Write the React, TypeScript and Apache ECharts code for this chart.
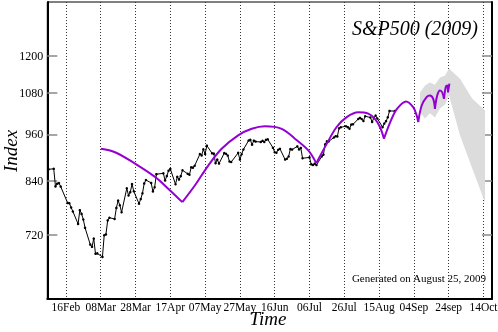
import React, { useEffect, useRef } from "react";
import * as echarts from "echarts";

// S&P500 daily closes (MM-DD, 2009)
const spxDates = [
  "02-06","02-09","02-10","02-11","02-12","02-13","02-17","02-18","02-19","02-20",
  "02-23","02-24","02-25","02-26","02-27","03-02","03-03","03-04","03-05","03-06",
  "03-09","03-10","03-11","03-12","03-13","03-16","03-17","03-18","03-19","03-20",
  "03-23","03-24","03-25","03-26","03-27","03-30","03-31","04-01","04-02","04-03",
  "04-06","04-07","04-08","04-09","04-13","04-14","04-15","04-16","04-17","04-20",
  "04-21","04-22","04-23","04-24","04-27","04-28","04-29","04-30","05-01","05-04",
  "05-05","05-06","05-07","05-08","05-11","05-12","05-13","05-14","05-15","05-18",
  "05-19","05-20","05-21","05-22","05-26","05-27","05-28","05-29","06-01","06-02",
  "06-03","06-04","06-05","06-08","06-09","06-10","06-11","06-12","06-15","06-16",
  "06-17","06-18","06-19","06-22","06-23","06-24","06-25","06-26","06-29","06-30",
  "07-01","07-02","07-06","07-07","07-08","07-09","07-10","07-13","07-14","07-15",
  "07-16","07-17","07-20","07-21","07-22","07-23","07-24","07-27","07-28","07-29",
  "07-30","07-31","08-03","08-04","08-05","08-06","08-07","08-10","08-11","08-12",
  "08-13","08-14","08-17","08-18","08-19","08-20","08-21","08-24"
];
const spxValues = [
  868.6, 869.9, 827.2, 833.7, 835.2, 826.8, 789.2, 788.4, 778.9, 770.1,
  743.3, 773.1, 764.9, 752.8, 735.1, 700.8, 696.3, 712.9, 682.6, 683.4,
  676.5, 719.6, 721.4, 750.7, 756.6, 753.9, 778.1, 794.4, 784.0, 768.5,
  822.9, 806.1, 813.9, 832.9, 815.9, 787.5, 797.9, 811.1, 834.4, 842.5,
  835.5, 815.6, 825.2, 856.6, 858.7, 841.5, 852.1, 865.3, 869.6, 832.4,
  850.1, 843.6, 851.9, 866.2, 857.5, 855.2, 873.6, 872.8, 877.5, 907.2,
  903.8, 919.5, 907.4, 929.2, 909.2, 908.4, 883.9, 893.1, 882.9, 909.7,
  908.1, 903.5, 888.3, 887.0, 910.3, 893.1, 906.8, 919.1, 942.9, 944.7,
  931.8, 942.5, 940.1, 939.1, 942.4, 939.2, 944.9, 946.2, 923.7, 912.0,
  910.7, 918.4, 921.2, 893.0, 895.1, 900.9, 920.3, 918.9, 927.2, 919.3,
  923.3, 896.4, 898.7, 881.0, 879.6, 882.7, 879.1, 901.1, 905.8, 932.7,
  940.7, 940.4, 951.1, 954.6, 954.1, 976.3, 979.3, 982.2, 979.6, 975.2,
  986.8, 987.5, 1002.6, 1005.7, 1002.7, 997.1, 1010.5, 1007.1, 994.4, 1005.8,
  1012.7, 1004.1, 979.7, 989.7, 996.5, 1007.4, 1026.1, 1025.6
];

// Projected cycle arcs: [day of year, index]
const arc1 = [[67.1, 921], [75.2, 912], [86.7, 883], [98.2, 850], [105.8, 822], [113.9, 791]];
const arc2 = [[113.9, 791], [121.2, 830], [128.8, 878], [136.5, 921], [146.0, 957], [153.8, 975], [161.4, 982], [171.0, 975], [178.6, 948], [186.3, 917], [190.9, 884]];
const arc3 = [[190.9, 884], [196.9, 934], [202.6, 980], [208.4, 1008], [215.0, 1022], [220.8, 1018], [224.6, 1003], [227.5, 980], [229.8, 948]];
const arc4 = [[229.8, 948], [234.2, 1003], [237.6, 1034], [242.5, 1054], [246.6, 1037], [248.6, 1013], [249.5, 994]];
const arc5 = [[249.5, 994], [251.5, 1042], [254.3, 1067], [256.2, 1072], [258.1, 1062], [259.1, 1032]];
const arc6 = [[259.1, 1032], [260.4, 1072], [262.0, 1088], [263.3, 1082], [264.3, 1062]];
const arc7 = [[264.3, 1062], [265.3, 1098], [266.2, 1103], [266.6, 1082]];
const arc8 = [[266.6, 1082], [267.4, 1109]];

// Uncertainty band
const bandDays = [250.5, 253.4, 256.2, 259.1, 262.0, 264.9, 267.2, 273.5, 280.5, 287.9];
const bandLow = [1022, 1004, 1019, 1007, 1033, 1045, 1072, 957, 871, 790];
const bandHigh = [1081, 1103, 1113, 1106, 1129, 1135, 1158, 1125, 1063, 1027];

const tickDates = ["02-16","03-08","03-28","04-17","05-07","05-27","06-16","07-06","07-26","08-15","09-04","09-24","10-14"];
const tickLabels = ["16Feb","08Mar","28Mar","17Apr","07May","27May","16Jun","06Jul","26Jul","15Aug","04Sep","24sep","14Oct"];
const yTicks = [720, 840, 960, 1080, 1200];

function dayOfYear(md: string): number {
  const [m, d] = md.split("-").map(Number);
  return (Date.UTC(2009, m - 1, d) - Date.UTC(2009, 0, 1)) / 86400000 + 1;
}

const SERIF = "'Liberation Serif', 'DejaVu Serif', serif";
const PURPLE = "#9400D3";

export default function App() {
  const ref = useRef<HTMLDivElement>(null);
  useEffect(() => {
    if (!ref.current) return;
    const chart = echarts.init(ref.current, undefined, { renderer: "svg" });
    const tickDays = tickDates.map(dayOfYear);
    const lnTicks = yTicks.map((v) => Math.log(v));
    const arcs = [arc1, arc2, arc3, arc4, arc5, arc6, arc7, arc8];

    const arcSeries = arcs.map((arc) => ({
      type: "line",
      data: arc.map(([d, v]) => [d, Math.log(v)]),
      smooth: 0.35,
      symbol: "none",
      lineStyle: { color: PURPLE, width: 2 },
      z: 5,
      silent: true,
    }));

    const yAxisCommon = {
      type: "value",
      min: Math.log(600),
      max: Math.log(1400),
      splitLine: { show: false },
      axisLine: { show: true, lineStyle: { color: "#000", width: 2 } },
      axisTick: {
        show: true,
        inside: true,
        length: 10,
        customValues: lnTicks,
        lineStyle: { color: "#888", width: 1.5 },
      },
    };

    const bandData = bandDays.map((d, i) => [d, Math.log(bandLow[i]), Math.log(bandHigh[i])]);

    chart.setOption({
      animation: false,
      grid: {
        left: 47.3,
        right: 6,
        top: 2,
        bottom: 33,
        show: true,
        borderColor: "#000",
        borderWidth: 1,
        outerBoundsMode: "none",
      },
      xAxis: [
        {
          type: "value",
          min: 36.3,
          max: 291.9,
          axisLine: { show: true, onZero: false, lineStyle: { color: "#000", width: 2 } },
          axisTick: { show: false, customValues: tickDays },
          axisLabel: {
            customValues: tickDays,
            formatter: (v: number) => {
              const i = tickDays.findIndex((d) => Math.abs(d - v) < 0.01);
              return i >= 0 ? tickLabels[i] : "";
            },
            fontFamily: SERIF,
            fontSize: 11.5,
            color: "#000",
            margin: 2,
          },
          splitLine: {
            show: true,
            lineStyle: { color: "#333", width: 1, type: [1, 2] },
          },
        },
      ],
      yAxis: [
        {
          ...yAxisCommon,
          position: "left",
          axisLabel: {
            customValues: lnTicks,
            formatter: (v: number) => String(Math.round(Math.exp(v))),
            fontFamily: SERIF,
            fontSize: 12,
            color: "#000",
            margin: 4,
          },
        },
        {
          ...yAxisCommon,
          position: "right",
          axisLabel: { show: false },
        },
      ],
      series: [
        {
          type: "custom",
          data: bandData,
          encode: { x: 0, y: [1, 2] },
          silent: true,
          z: 1,
          renderItem: (params: any, api: any) => {
            if (params.dataIndex !== 0) return null;
            const upper = bandData.map((p) => api.coord([p[0], p[2]]));
            const lower = bandData.map((p) => api.coord([p[0], p[1]])).reverse();
            return {
              type: "polygon",
              shape: { points: upper.concat(lower) },
              style: { fill: "#dcdcdc", stroke: "none" },
            };
          },
        },
        {
          type: "line",
          data: spxDates.map((md, i) => [dayOfYear(md), Math.log(spxValues[i])]),
          symbol: "circle",
          symbolSize: 2.5,
          itemStyle: { color: "#000" },
          lineStyle: { color: "#000", width: 1 },
          z: 3,
          silent: true,
        },
        ...arcSeries,
      ],
      graphic: [
        {
          type: "text",
          x: 478,
          y: 28,
          style: {
            text: "S&P500 (2009)",
            font: `italic 20px ${SERIF}`,
            fill: "#000",
            textAlign: "right",
            textVerticalAlign: "middle",
          },
        },
        {
          type: "text",
          x: 486,
          y: 277.5,
          style: {
            text: "Generated on August 25, 2009",
            font: `11px ${SERIF}`,
            fill: "#000",
            textAlign: "right",
            textVerticalAlign: "middle",
          },
        },
        {
          type: "text",
          x: 10,
          y: 151,
          rotation: Math.PI / 2,
          style: {
            text: "Index",
            font: `italic 19px ${SERIF}`,
            fill: "#000",
            textAlign: "center",
            textVerticalAlign: "middle",
          },
        },
        {
          type: "text",
          x: 268,
          y: 318,
          style: {
            text: "Time",
            font: `italic 19px ${SERIF}`,
            fill: "#000",
            textAlign: "center",
            textVerticalAlign: "middle",
          },
        },
      ],
    });
    return () => chart.dispose();
  }, []);
  return (
    <div
      ref={ref}
      style={{ position: "fixed", left: 0, top: 0, width: 498, height: 332 }}
    />
  );
}
